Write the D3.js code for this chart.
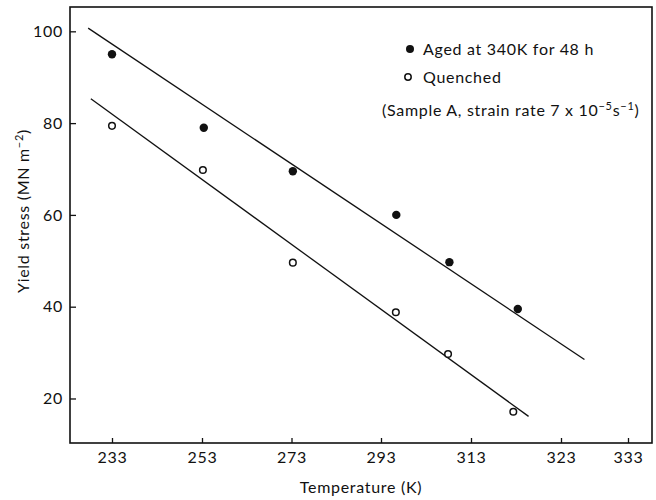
<!DOCTYPE html>
<html>
<head>
<meta charset="utf-8">
<script src="https://cdn.jsdelivr.net/npm/d3@7"></script>
<style>
  body { margin: 0; background: #fff; }
  svg text { font-family: "Lato", "DejaVu Sans", sans-serif; fill: #111; letter-spacing: 0.7px; }
</style>
</head>
<body>
<svg id="chart"></svg>
<script>
// data
var xTickValues = [233, 253, 273, 293, 313, 323, 333]
var yTickValues = [20, 40, 60, 80, 100]

var agedTemp   = [233, 253.4, 273.3, 296.4, 308.2, 318.2]
var agedStress = [95, 79, 69.5, 60, 49.7, 39.5]

var quenchedTemp   = [233, 253.2, 273.3, 296.3, 307.9, 317.7]
var quenchedStress = [79.4, 69.8, 49.6, 38.8, 29.7, 17.1]

// fitted lines, end points
var agedLineTemp     = [227.7, 326.5]
var agedLineStress   = [100.7, 28.5]
var quenchedLineTemp   = [228.3, 319.4]
var quenchedLineStress = [85.3, 16.1]

var dimensions = {
  width: 656,
  height: 500,
  margin: { top: 7, bottom: 57, right: 4, left: 70 }
}

// the printed tick labels are not evenly spaced, so the x scale is piecewise
var xTickPx = [112, 202, 291.5, 381, 471, 561, 628]

var svg = d3.select("#chart")
  .attr("width", dimensions.width)
  .attr("height", dimensions.height)

var plotLeft = dimensions.margin.left
var plotRight = dimensions.width - dimensions.margin.right
var plotTop = dimensions.margin.top
var plotBottom = dimensions.height - dimensions.margin.bottom

var xScale = d3.scaleLinear()
  .domain(xTickValues)
  .range(xTickPx)

var yScale = d3.scaleLinear()
  .domain([10.3, 105.3])
  .range([plotBottom, plotTop])

// frame
svg.append("rect")
  .attr("x", plotLeft)
  .attr("y", plotTop)
  .attr("width", plotRight - plotLeft)
  .attr("height", plotBottom - plotTop)
  .attr("fill", "none")
  .attr("stroke", "#111")
  .attr("stroke-width", 1.6)

var yAxisGen = d3.axisLeft(yScale)
  .tickValues(yTickValues)
  .tickSize(-6)
  .tickPadding(7)
var yAxis = svg.append("g")
  .attr("transform", `translate(${plotLeft},0)`)
  .call(yAxisGen)
yAxis.select(".domain").remove()
yAxis.selectAll("line").attr("stroke", "#111").attr("stroke-width", 1.3)
yAxis.selectAll("text").style("font-size", "16px").style("font-family", "Lato")

var xAxisGen = d3.axisBottom(xScale)
  .tickValues(xTickValues)
  .tickSize(-5)
  .tickPadding(9)
var xAxis = svg.append("g")
  .attr("transform", `translate(0,${plotBottom})`)
  .call(xAxisGen)
xAxis.select(".domain").remove()
xAxis.selectAll("line").attr("stroke", "#111").attr("stroke-width", 1.3)
xAxis.selectAll("text").style("font-size", "16px").style("font-family", "Lato")

// fit lines
function drawLine(temps, stresses) {
  var pts = temps.map((t, i) => [t, stresses[i]])
  svg.append("path")
    .datum(pts)
    .attr("fill", "none")
    .attr("stroke", "#111")
    .attr("stroke-width", 1.3)
    .attr("d", d3.line().x(d => xScale(d[0])).y(d => yScale(d[1])))
}
drawLine(agedLineTemp, agedLineStress)
drawLine(quenchedLineTemp, quenchedLineStress)

// points
svg.append("g")
  .selectAll("circle")
  .data(agedTemp)
  .enter()
  .append("circle")
  .attr("cx", d => xScale(d))
  .attr("cy", (d, i) => yScale(agedStress[i]))
  .attr("r", 4.2)
  .attr("fill", "#111")

svg.append("g")
  .selectAll("circle")
  .data(quenchedTemp)
  .enter()
  .append("circle")
  .attr("cx", d => xScale(d))
  .attr("cy", (d, i) => yScale(quenchedStress[i]))
  .attr("r", 3.3)
  .attr("fill", "#fff")
  .attr("stroke", "#111")
  .attr("stroke-width", 1.5)

// legend
var legend = svg.append("g").style("font-size", "16px")
legend.append("circle").attr("cx", 410).attr("cy", 49).attr("r", 4).attr("fill", "#111")
legend.append("text").attr("x", 423).attr("y", 55).text("Aged at 340K for 48 h")
legend.append("circle").attr("cx", 408).attr("cy", 77).attr("r", 3.2)
  .attr("fill", "#fff").attr("stroke", "#111").attr("stroke-width", 1.5)
legend.append("text").attr("x", 423).attr("y", 83).text("Quenched")

var note = legend.append("text").attr("x", 382).attr("y", 116)
note.append("tspan").text("(Sample A, strain rate 7 x 10")
note.append("tspan").attr("dy", -6).style("font-size", "11px").text("\u22125")
note.append("tspan").attr("dy", 6).text("s")
note.append("tspan").attr("dy", -6).style("font-size", "11px").text("\u22121")
note.append("tspan").attr("dy", 6).text(")")

// axis titles
svg.append("text")
  .attr("x", (plotLeft + plotRight) / 2)
  .attr("y", 493)
  .attr("text-anchor", "middle")
  .style("font-size", "16px")
  .text("Temperature (K)")

var yTitle = svg.append("text")
  .attr("transform", "translate(29,211) rotate(-90)")
  .attr("text-anchor", "middle")
  .style("font-size", "16px")
yTitle.append("tspan").text("Yield stress (MN m")
yTitle.append("tspan").attr("dy", -6).style("font-size", "11px").text("\u22122")
yTitle.append("tspan").attr("dy", 6).text(")")
</script>
</body>
</html>
